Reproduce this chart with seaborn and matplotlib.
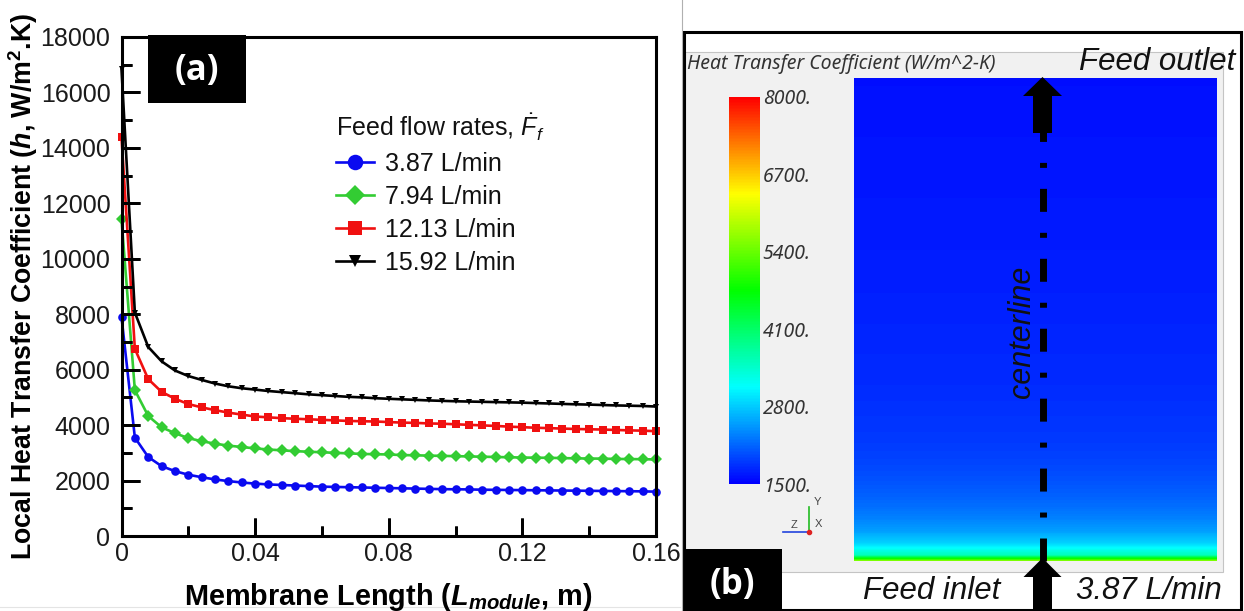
import numpy as np
import pandas as pd
import matplotlib
matplotlib.use("Agg")
import matplotlib.pyplot as plt
import seaborn as sns
from matplotlib.colors import LinearSegmentedColormap
from matplotlib.patches import Rectangle, Polygon
from matplotlib.lines import Line2D
from matplotlib.ticker import MultipleLocator

# ---------------- data ----------------
L_module = [0.000, 0.004, 0.008, 0.012, 0.016, 0.020, 0.024, 0.028, 0.032, 0.036,
            0.040, 0.044, 0.048, 0.052, 0.056, 0.060, 0.064, 0.068, 0.072, 0.076,
            0.080, 0.084, 0.088, 0.092, 0.096, 0.100, 0.104, 0.108, 0.112, 0.116,
            0.120, 0.124, 0.128, 0.132, 0.136, 0.140, 0.144, 0.148, 0.152, 0.156,
            0.160]
h_387 = [7900, 3550, 2850, 2520, 2340, 2210, 2120, 2040, 1980, 1930,
         1890, 1860, 1840, 1820, 1800, 1780, 1770, 1760, 1750, 1740,
         1730, 1720, 1710, 1700, 1690, 1685, 1680, 1670, 1665, 1660,
         1655, 1650, 1645, 1640, 1635, 1630, 1625, 1620, 1615, 1610,
         1600]
h_794 = [11430, 5260, 4330, 3920, 3710, 3530, 3420, 3330, 3260, 3210,
         3160, 3120, 3090, 3060, 3040, 3020, 3000, 2980, 2960, 2950,
         2940, 2920, 2910, 2900, 2890, 2880, 2870, 2860, 2850, 2840,
         2830, 2825, 2820, 2810, 2800, 2795, 2790, 2780, 2775, 2770,
         2760]
h_1213 = [14380, 6750, 5660, 5200, 4950, 4760, 4640, 4540, 4450, 4380,
          4310, 4280, 4250, 4230, 4210, 4190, 4170, 4150, 4140, 4130,
          4110, 4090, 4080, 4060, 4050, 4030, 4010, 3990, 3970, 3945,
          3925, 3905, 3890, 3875, 3860, 3850, 3840, 3825, 3810, 3800,
          3780]
h_1592 = [16830, 8060, 6820, 6300, 5970, 5770, 5630, 5500, 5400, 5330,
          5280, 5230, 5190, 5150, 5110, 5080, 5050, 5020, 5000, 4970,
          4950, 4930, 4910, 4890, 4875, 4860, 4850, 4840, 4830, 4820,
          4810, 4795, 4780, 4765, 4750, 4740, 4725, 4710, 4700, 4690,
          4670]
flow_labels = ["3.87 L/min", "7.94 L/min", "12.13 L/min", "15.92 L/min"]
series_colors = ["#0a0af0", "#33cc33", "#f01010", "#000000"]
series_markers = ["o", "D", "s", "v"]
x_ticks = [0, 0.04, 0.08, 0.12, 0.16]
x_ticklabels = ["0", "0.04", "0.08", "0.12", "0.16"]
x_minor_ticks = [0.02, 0.06, 0.10, 0.14]
y_ticks = [0, 2000, 4000, 6000, 8000, 10000, 12000, 14000, 16000, 18000]
y_minor_ticks = [1000, 3000, 5000, 7000, 9000, 11000, 13000, 15000, 17000]
cbar_ticks = [1500, 2800, 4100, 5400, 6700, 8000]
cbar_ticklabels = ["1500.", "2800.", "4100.", "5400.", "6700.", "8000."]

# ---------------- style ----------------
plt.rcParams.update({
    "font.family": ["Liberation Sans", "DejaVu Sans"],
    "mathtext.fontset": "custom",
    "mathtext.rm": "Liberation Sans",
    "mathtext.it": "Liberation Sans:italic",
    "mathtext.bf": "Liberation Sans:bold",
    "mathtext.bfit": "Liberation Sans:italic:bold",
    "text.color": "#111111",
    "axes.axisbelow": False,
    "xtick.bottom": True, "ytick.left": True,
    "xtick.top": False, "ytick.right": False,
    "xtick.direction": "in", "ytick.direction": "in",
    "xtick.major.size": 13, "ytick.major.size": 13,
    "xtick.minor.size": 7, "ytick.minor.size": 7,
    "xtick.major.width": 2.0, "ytick.major.width": 2.0,
    "xtick.minor.width": 2.0, "ytick.minor.width": 2.0,
    "xtick.color": "black", "ytick.color": "black",
    "xtick.labelcolor": "#1a1a1a", "ytick.labelcolor": "#1a1a1a",
    "xtick.labelsize": 18, "ytick.labelsize": 18,
    "xtick.major.pad": 4, "ytick.major.pad": 8,
})

W, H = 1244, 611
fig = plt.figure(figsize=(W / 100, H / 100), dpi=100)
fig.patch.set_facecolor("white")


def px_axes(x0, y0, x1, y1, **kw):
    return fig.add_axes([x0 / W, 1 - y1 / H, (x1 - x0) / W, (y1 - y0) / H], **kw)


# background of the right panel only
R0 = 681
bg = px_axes(R0, 0, W, H, zorder=0)
bg.set_xlim(R0, W)
bg.set_ylim(H, 0)
bg.axis("off")
bg.add_patch(Rectangle((685, 52), 538, 520, fc="#f1f1f1", ec="#c4c4c4", lw=0.8))
bg.add_patch(Rectangle((684, 32), 557, 578, fill=False, ec="black", lw=2.2))
bg.plot([R0 + 0.5, R0 + 0.5], [0, H], color="#b0b0b0", lw=0.8)
fig.add_artist(Line2D([0, 680 / W], [1 - 607 / H, 1 - 607 / H],
                      color="#e4e4e4", lw=0.8))

# ---------------- left panel ----------------
df = pd.concat([
    pd.DataFrame({"L": L_module, "h": vals, "flow": lab})
    for vals, lab in zip([h_387, h_794, h_1213, h_1592], flow_labels)
], ignore_index=True)

AX0, AY0, AX1, AY1 = 121.5, 37, 656, 536
aw, ah = AX1 - AX0, AY1 - AY0
ax = px_axes(AX0, AY0, AX1, AY1, zorder=6)
ax.patch.set_visible(False)
sns.lineplot(data=df, x="L", y="h", hue="flow", style="flow",
             hue_order=flow_labels, style_order=flow_labels,
             palette=dict(zip(flow_labels, series_colors)),
             markers=dict(zip(flow_labels, series_markers)),
             dashes=False, estimator=None, sort=False, legend=False,
             linewidth=1.9, markersize=6, markeredgewidth=0, clip_on=False,
             ax=ax)
data_lines = list(ax.lines)
for line, ms in zip(data_lines, [6.2, 5.8, 5.2, 4.6]):
    line.set_markersize(ms)

ax.set_xlim(0, 0.16)
ax.set_ylim(0, 18000)
ax.set_xticks(x_ticks, x_ticklabels)
ax.set_yticks(y_ticks, [str(v) for v in y_ticks])
ax.xaxis.set_minor_locator(MultipleLocator(0.02))
ax.yaxis.set_minor_locator(MultipleLocator(1000))
ax.set_axisbelow(False)
ax.tick_params(which="both", direction="in", width=2.0, color="black",
               bottom=True, left=True, top=False, right=False,
               labelsize=18, labelcolor="#1a1a1a")
ax.tick_params(which="major", length=13)
ax.tick_params(which="minor", length=7)
ax.tick_params(axis="x", pad=4)
ax.tick_params(axis="y", pad=8)
for sp in ax.spines.values():
    sp.set_linewidth(2.2)
    sp.set_color("black")
    sp.set_visible(True)

# inward tick marks, placed through the axes' own scales (data x / axes-fraction y)
maj_x, min_x = 18 / ah, 10 / ah
maj_y, min_y = 18 / aw, 10 / aw
tick_kw = dict(colors="black", linewidth=2.0, clip_on=False, zorder=3,
               capstyle="butt")
ax.vlines(x_ticks, 0, maj_x, transform=ax.get_xaxis_transform(), **tick_kw)
ax.vlines(x_minor_ticks, 0, min_x, transform=ax.get_xaxis_transform(), **tick_kw)
ax.hlines(y_ticks, 0, maj_y, transform=ax.get_yaxis_transform(), **tick_kw)
ax.hlines(y_minor_ticks, 0, min_y, transform=ax.get_yaxis_transform(), **tick_kw)
ax.set_xlim(0, 0.16)
ax.set_ylim(0, 18000)

ax.set_xlabel(r"Membrane Length ($\mathbfit{L}_{\mathbfit{module}}$, m)",
              fontsize=20.8, fontweight="bold")
ax.set_ylabel(r"Local Heat Transfer Coefficient ($\mathbfit{h}$, W/m$^{\mathbf{2}}$.K)",
              fontsize=19.3, fontweight="bold")
ax.xaxis.set_label_coords(0.5, -(597 - AY1) / ah)
ax.xaxis.label.set_va("center")
ax.yaxis.set_label_coords(-(AX0 - 23) / aw, 0.5)
ax.yaxis.label.set_va("center")

ax.legend(data_lines, flow_labels, title=r"Feed flow rates, $\dot{F}_f$",
          loc="upper left", bbox_to_anchor=(336 / W, 1 - 112 / H),
          bbox_transform=fig.transFigure, frameon=False, fontsize=18,
          title_fontsize=18, handlelength=1.5, handletextpad=0.45,
          labelspacing=0.36, markerscale=1.8, borderpad=0, borderaxespad=0,
          alignment="left")

# "(a)" tag drawn inside the left axes (axes-fraction coordinates)
ax.add_patch(Rectangle(((147.5 - AX0) / aw, (AY1 - 103) / ah), 98 / aw, 68 / ah,
                       transform=ax.transAxes, fc="black", ec="none",
                       zorder=10, clip_on=False))
ax.text((196.5 - AX0) / aw, (AY1 - 71) / ah, "(a)", transform=ax.transAxes,
        color="white", fontsize=25, fontweight="bold",
        family=["Open Sans", "DejaVu Sans"], ha="center", va="center", zorder=11)

# ---------------- right panel ----------------
cmap = LinearSegmentedColormap.from_list(
    "rainbow_cfd", [(0.0, "#0000ff"), (0.25, "#00ffff"), (0.5, "#00ff00"),
                    (0.75, "#ffff00"), (1.0, "#ff0000")])

fax = px_axes(854, 78, 1217, 561, zorder=1)
field = np.tile(np.array(h_387, dtype=float)[:, None], (1, 2))
im = fax.imshow(field, origin="lower", aspect="auto",
                extent=[0, 1, -0.004, 0.160], cmap=cmap, vmin=1500, vmax=8000,
                interpolation="bilinear")
fax.set_xlim(0, 1)
fax.set_ylim(0, 0.16)
fax.axis("off")

cax = px_axes(729, 97, 760, 484, zorder=1)
cb = fig.colorbar(im, cax=cax, ticks=cbar_ticks)
cb.outline.set_visible(False)
cax.set_yticks(cbar_ticks, cbar_ticklabels)
cax.tick_params(length=0, pad=2, labelsize=14, labelcolor="#333333")
for t in cax.get_yticklabels():
    t.set_fontstyle("italic")
    t.set_family(["Noto Sans", "DejaVu Sans"])

# ---------------- right panel overlay ----------------
ov = px_axes(R0, 0, W, H, zorder=5)
ov.set_xlim(R0, W)
ov.set_ylim(H, 0)
ov.axis("off")

ov.add_patch(Rectangle((685, 549), 97, 62, fc="black", ec="none"))
ov.text(732, 585, "(b)", color="white", fontsize=25, fontweight="bold",
        family=["Open Sans", "DejaVu Sans"], ha="center", va="center")

# arrows & centerline
cx = 1042.5
ov.add_patch(Polygon([(cx - 9.5, 133), (cx + 9.5, 133), (cx + 9.5, 96),
                      (cx + 19.5, 96), (cx, 77), (cx - 19.5, 96), (cx - 9.5, 96)],
                     closed=True, fc="black", ec="none"))
ov.add_patch(Polygon([(cx - 9.5, 611), (cx + 9.5, 611), (cx + 9.5, 577),
                      (cx + 19, 577), (cx, 558), (cx - 19, 577), (cx - 9.5, 577)],
                     closed=True, fc="black", ec="none"))
ov.plot([cx, cx], [561, 120], color="black", lw=5,
        linestyle=(0, (3.31, 3.02, 0.72, 3.02)), dash_capstyle="butt",
        solid_capstyle="butt")

# texts
ov.text(687, 64, "Heat Transfer Coefficient (W/m^2-K)", fontsize=14,
        fontstyle="italic", color="#333333", family=["Noto Sans", "DejaVu Sans"],
        ha="left", va="center")
ov.text(1235, 70, "Feed outlet", fontsize=22.5, fontstyle="italic",
        color="#111111", ha="right", va="baseline")
ov.text(863, 599, "Feed inlet", fontsize=22.5, fontstyle="italic",
        color="#111111", ha="left", va="baseline")
ov.text(1076, 599, "3.87 L/min", fontsize=22.5, fontstyle="italic",
        color="#111111", ha="left", va="baseline")
ov.text(1022, 332, "centerline", fontsize=22, fontstyle="italic",
        color="#111111", rotation=90, ha="center", va="center")

# coordinate triad
ov.plot([809, 809], [507, 532], color="#22bb22", lw=1.2)
ov.plot([783, 809], [532, 532], color="#2244dd", lw=1.2)
ov.plot([809], [532], "o", color="#dd2222", ms=3)
ov.text(817, 502, "Y", fontsize=8, color="#444444", ha="center", va="center")
ov.text(818, 524, "X", fontsize=8, color="#444444", ha="center", va="center")
ov.text(794, 525, "Z", fontsize=8, color="#444444", ha="center", va="center")

fig.savefig("out.png", dpi=100)
